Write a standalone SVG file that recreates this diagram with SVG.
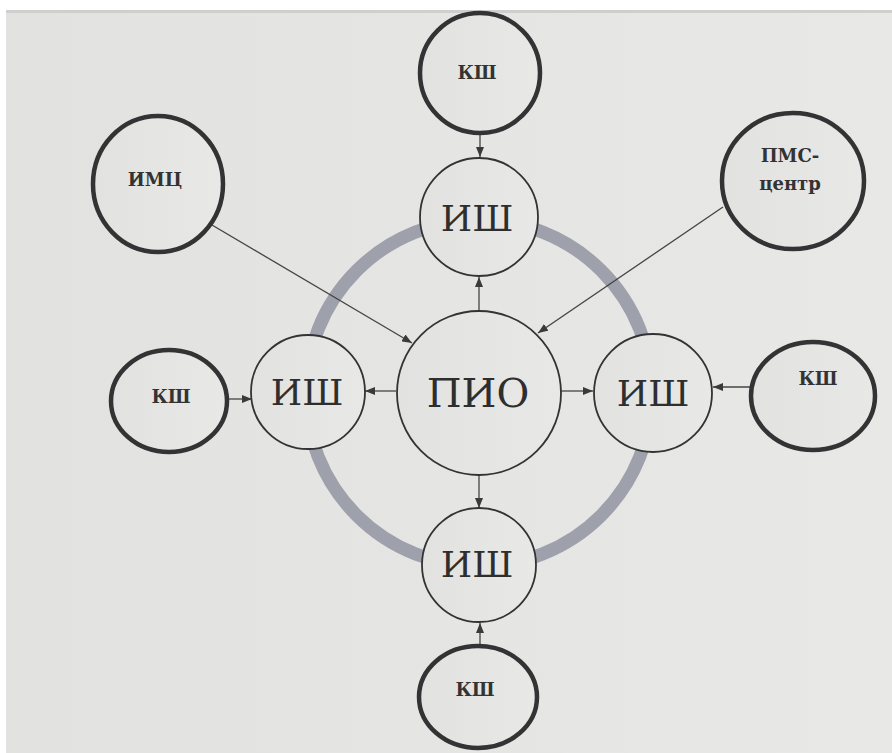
<svg xmlns="http://www.w3.org/2000/svg" width="892" height="753" viewBox="0 0 892 753">
<defs>
<linearGradient id="bg" x1="0" y1="0" x2="1" y2="0">
<stop offset="0" stop-color="#e2e2e0"/>
<stop offset="1" stop-color="#e8e8e6"/>
</linearGradient>
<marker id="ah" viewBox="0 0 10 8" refX="10" refY="4" markerWidth="10" markerHeight="8" markerUnits="userSpaceOnUse" orient="auto">
<path d="M0,0 L10,4 L0,8 Z" fill="#3a3a3a"/>
</marker>
<style>
.thick{fill:url(#bg);stroke:#333335;stroke-width:4.5}
.thin{fill:url(#bg);stroke:#333335;stroke-width:1.8}
.ring{fill:none;stroke:#9ea0ab;stroke-width:13}
.conn line{stroke:#444;stroke-width:1.3;marker-end:url(#ah)}
text{font-family:'DejaVu Serif',serif}
.big{font-size:36px;fill:#2e2e2e;text-anchor:middle}
.pio{font-size:40px;fill:#2e2e2e;text-anchor:middle}
.small{font-size:18px;font-weight:bold;fill:#333;text-anchor:middle}
</style>
</defs>
<rect x="0" y="0" width="892" height="753" fill="#ffffff"/>
<rect x="6" y="10" width="886" height="743" fill="url(#bg)"/>
<rect x="6" y="10" width="886" height="3" fill="#cfcfcd"/>
<circle class="ring" cx="479" cy="393" r="173"/>
<g class="conn">
<line x1="480" y1="135" x2="480" y2="157"/>
<line x1="479" y1="312" x2="479" y2="277"/>
<line x1="396" y1="391" x2="365" y2="391"/>
<line x1="561" y1="391" x2="593" y2="391"/>
<line x1="479" y1="474" x2="479" y2="508"/>
<line x1="480" y1="668" x2="480" y2="623"/>
<line x1="227" y1="399" x2="252" y2="399"/>
<line x1="750" y1="387" x2="713" y2="387"/>
<line x1="212" y1="225" x2="412" y2="343"/>
<line x1="723" y1="207" x2="538" y2="333"/>
</g>
<g id="pio"><circle class="thin" cx="479" cy="393" r="82"/><text class="pio" x="478" y="407">ПИО</text></g>
<g id="ish-top"><circle class="thin" cx="479" cy="217" r="59"/><text class="big" x="477" y="231">ИШ</text></g>
<g id="ish-left"><circle class="thin" cx="308" cy="392" r="57"/><text class="big" x="307" y="405">ИШ</text></g>
<g id="ish-right"><circle class="thin" cx="653" cy="393" r="59"/><text class="big" x="653" y="406">ИШ</text></g>
<g id="ish-bottom"><circle class="thin" cx="479" cy="565" r="57"/><text class="big" x="477" y="577">ИШ</text></g>
<g id="ksh-top"><circle class="thick" cx="480" cy="73" r="60"/><text class="small" x="477" y="79">КШ</text></g>
<g id="ksh-bottom"><ellipse class="thick" cx="478" cy="697" rx="59" ry="51"/><text class="small" x="475" y="696">КШ</text></g>
<g id="ksh-left"><ellipse class="thick" cx="169" cy="401" rx="58" ry="51"/><text class="small" x="171" y="403">КШ</text></g>
<g id="ksh-right"><ellipse class="thick" cx="813" cy="396" rx="62" ry="54"/><text class="small" x="818" y="385">КШ</text></g>
<g id="imc"><ellipse class="thick" cx="158" cy="184" rx="65" ry="68"/><text class="small" x="155" y="186">ИМЦ</text></g>
<g id="pms"><ellipse class="thick" cx="793" cy="181" rx="71" ry="68"/><text class="small" x="790" y="162">ПМС-</text><text class="small" x="790" y="190">центр</text></g>
</svg>
